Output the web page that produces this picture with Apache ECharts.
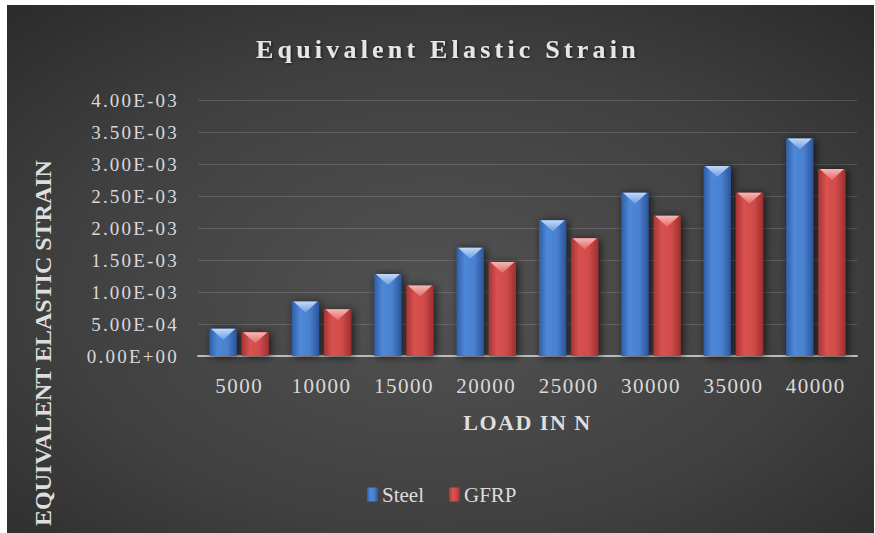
<!DOCTYPE html>
<html>
<head>
<meta charset="utf-8">
<script src="https://cdn.jsdelivr.net/npm/echarts@6/dist/echarts.min.js"></script>
<style>
html,body{margin:0;padding:0;background:#ffffff;}
#chart{position:absolute;left:7px;top:5px;width:867px;height:528px;}
</style>
</head>
<body>
<div id="chart"></div>
<script>
// ---- data ----
const categories = ['5000','10000','15000','20000','25000','30000','35000','40000'];
const steel = [0.000425, 0.00085, 0.00128, 0.00169, 0.00212, 0.00255, 0.00297, 0.0034];
const gfrp  = [0.000370, 0.00073, 0.00110, 0.00147, 0.00184, 0.00219, 0.00255, 0.00292];
const yTickLabels = ['0.00E+00','5.00E-04','1.00E-03','1.50E-03','2.00E-03','2.50E-03','3.00E-03','3.50E-03','4.00E-03'];
const seriesNames = ['Steel','GFRP'];
const titleText = 'Equivalent Elastic Strain';
const xName = 'LOAD IN N';
const yName = 'EQUIVALENT ELASTIC STRAIN';

const chart = echarts.init(document.getElementById('chart'), null, {renderer:'svg'});
const G = echarts.graphic;
const serif = '"Liberation Serif","Times New Roman",serif';

const blueFill = new G.LinearGradient(0,0,1,0,[
  {offset:0,color:'#2f5ea8'},{offset:0.3,color:'#4f88d8'},{offset:0.65,color:'#4a80d0'},{offset:1,color:'#2c559a'}]);
const redFill = new G.LinearGradient(0,0,1,0,[
  {offset:0,color:'#a83434'},{offset:0.3,color:'#d85250'},{offset:0.65,color:'#d04b49'},{offset:1,color:'#9e3030'}]);
const blueTri = new G.LinearGradient(0,0,0,1,[{offset:0,color:'#c2daf7'},{offset:1,color:'#6d9de0'}]);
const redTri = new G.LinearGradient(0,0,0,1,[{offset:0,color:'#f7b8b6'},{offset:1,color:'#e06a68'}]);

function makeRender(side, fill, tri){
  return function(params, api){
    const idx = api.value(0), val = api.value(1);
    const top = api.coord([idx, val]);
    const base = api.coord([idx, 0]);
    const band = api.size([1,0])[0];
    const w = band*0.33, gap = band*0.06;
    const cx = top[0] + side*(w+gap)/2;
    const x0 = cx - w/2;
    const h = base[1]-top[1];
    const d = Math.min(11, h/2);
    return {type:'group', children:[
      {type:'rect', shape:{x:x0,y:top[1],width:w,height:h},
       style:{fill:fill, shadowBlur:8, shadowColor:'rgba(0,0,0,0.7)', shadowOffsetX:2, shadowOffsetY:1}},
      {type:'polygon', shape:{points:[[x0+1.5,top[1]],[x0+w-1.5,top[1]],[cx, top[1]+d]]}, style:{fill:tri}}
    ]};
  };
}

const option = {
  animation:false,
  backgroundColor: new G.RadialGradient(0.5,0.55,0.8,[
    {offset:0,color:'#525252'},{offset:0.55,color:'#404040'},{offset:1,color:'#272727'}]),
  title:{
    text:titleText, left:249, top:31, padding:0,
    textStyle:{fontFamily:serif, fontWeight:'bold', fontSize:26, color:'#e6e6e6',
      textShadowColor:'rgba(0,0,0,0.6)', textShadowBlur:3, textShadowOffsetX:1, textShadowOffsetY:1}
  },
  legend:{
    data:seriesNames, left:360, top:479, padding:0, itemGap:25, itemWidth:11, itemHeight:14,
    icon:'rect',
    textStyle:{fontFamily:serif, fontSize:21, color:'#dcdcdc', padding:[0,0,0,-1]}
  },
  grid:{left:191, right:17, top:95, bottom:177, containLabel:false},
  xAxis:{
    type:'category', data:categories,
    name:xName, nameLocation:'middle', nameGap:55,
    nameTextStyle:{fontFamily:serif, fontWeight:'bold', fontSize:22, color:'#dedede'},
    axisLine:{lineStyle:{color:'#bdbdbd', width:2}},
    axisTick:{show:false},
    axisLabel:{fontFamily:serif, fontSize:21, color:'#d9d9d9', margin:19},
    splitLine:{show:false}
  },
  yAxis:{
    type:'value', min:0, max:0.004, interval:0.0005,
    axisLine:{show:false}, axisTick:{show:false},
    axisLabel:{fontFamily:serif, fontSize:19, color:'#d9d9d9', margin:19,
      formatter:function(v){ return yTickLabels[Math.round(v/0.0005)]; }},
    splitLine:{lineStyle:{color:'rgba(255,255,255,0.14)', width:1}}
  },
  graphic:[{
    type:'text', x:36, y:338, rotation:Math.PI/2, silent:true,
    style:{text:yName, fill:'#dedede', font:'bold 24px '+serif, align:'center', verticalAlign:'middle'}
  }],
  series:[
    {name:seriesNames[0], type:'custom', silent:true, itemStyle:{color:blueFill},
     renderItem:makeRender(-1, blueFill, blueTri), encode:{x:0,y:1},
     data:steel.map((v,i)=>[i,v])},
    {name:seriesNames[1], type:'custom', silent:true, itemStyle:{color:redFill},
     renderItem:makeRender(1, redFill, redTri), encode:{x:0,y:1},
     data:gfrp.map((v,i)=>[i,v])}
  ]
};
chart.setOption(option);

function applySpacing(){
  const spacing = {};
  spacing[titleText] = '4.2px';
  spacing[xName] = '1.5px';
  categories.forEach(c=>spacing[c]='1.5px');
  yTickLabels.forEach(c=>spacing[c]='2.2px');
  document.querySelectorAll('#chart text').forEach(t=>{
    const s = t.textContent;
    if (spacing[s]) t.style.letterSpacing = spacing[s];
  });
}
applySpacing();
chart.on('finished', applySpacing);
</script>
</body>
</html>
